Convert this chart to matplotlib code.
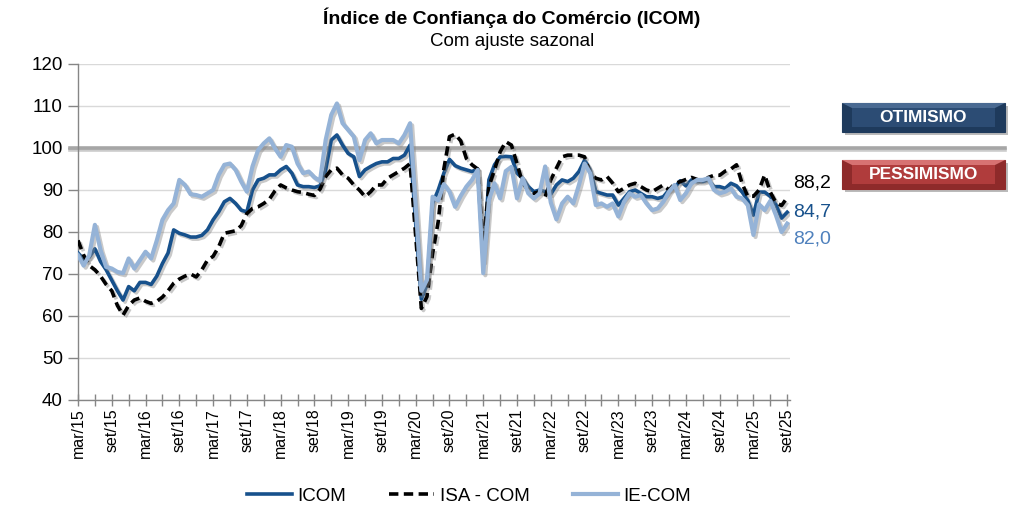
import matplotlib
matplotlib.use('Agg')
import matplotlib.pyplot as plt
import matplotlib.patheffects as pe
from matplotlib.patches import Rectangle, Polygon
from matplotlib.lines import Line2D
import numpy as np

plt.rcParams['font.family'] = ['Liberation Sans', 'DejaVu Sans']

TITLE = 'Índice de Confiança do Comércio (ICOM)'
SUBTITLE = 'Com ajuste sazonal'
SERIES_NAMES = ['ICOM', 'ISA - COM', 'IE-COM']
XLABELS = ['mar/15', 'set/15', 'mar/16', 'set/16', 'mar/17', 'set/17', 'mar/18', 'set/18',
           'mar/19', 'set/19', 'mar/20', 'set/20', 'mar/21', 'set/21', 'mar/22', 'set/22',
           'mar/23', 'set/23', 'mar/24', 'set/24', 'mar/25', 'set/25']
YTICKS = [40, 50, 60, 70, 80, 90, 100, 110, 120]
NEUTRAL = 100
ZONE_LABELS = ['OTIMISMO', 'PESSIMISMO']
LAST_LABELS = ['84,7', '88,2', '82,0']

icom = [75, 73.5, 74, 76, 73, 71, 68.5, 66, 63.8, 67,
        66, 68, 68, 67.5, 69.5, 72.5, 75, 80.5, 79.7, 79.3,
        78.8, 78.8, 79.2, 80.5, 82.9, 84.8, 87.2, 88, 86.8, 85.2,
        84.8, 90, 92.4, 92.8, 93.6, 93.6, 94.8, 95.6, 94, 91.2,
        90.8, 90.8, 90.6, 91, 94.8, 101.9, 103.1, 100.7, 98.7, 97.9,
        93.2, 94.8, 95.6, 96.3, 96.7, 96.7, 97.5, 97.5, 98.3, 100.7,
        82, 64, 67.5, 86.8, 90, 94, 97.3, 95.8, 95.2, 94.8,
        94.4, 95, 73, 92.4, 96, 97.9, 98, 97.9, 94, 92.8,
        90.8, 89.6, 90, 89.6, 89, 91.2, 92.4, 92, 92.8, 94.4,
        97.1, 94.8, 89.6, 89.2, 88.8, 88.8, 86.4, 88, 89.6, 90,
        89.2, 88.4, 88.4, 88, 88.4, 90, 90.6, 92.2, 91, 92.4,
        92, 92, 92.4, 90.8, 90.8, 90.4, 91.6, 91, 89.5, 87.5,
        84, 89.5, 89.5, 88.5, 86.5, 83.3, 84.7]

isa = [78, 74.5, 72, 71, 69.5, 67.5, 66, 62.5, 60.2, 62.5,
       63.8, 64.3, 63.5, 63, 63.5, 64.5, 66, 67.8, 68.8, 69.5,
       70, 69.3, 71, 73.3, 74.2, 76.5, 79.7, 80, 80.3, 81.5,
       84.4, 85.6, 86, 86.8, 87.8, 89.8, 91.2, 90.5, 90, 89.6,
       89.4, 89, 88.7, 90.2, 93.2, 94.8, 95.2, 93.6, 92.8, 91.2,
       90, 88.4, 89.6, 91.2, 91.2, 92.8, 93.6, 94.4, 95.2, 96.3,
       79, 61.8, 64.6, 74.9, 82.5, 95, 102.7, 103.3, 101.7, 97.5,
       96, 95, 77, 90.8, 94.8, 99.1, 101.5, 100.7, 96.3, 91.6,
       90, 89.2, 89.6, 88.4, 92.4, 95.2, 97.9, 98.3, 98.3, 98.3,
       97.9, 94, 92.8, 92.4, 93.2, 91.6, 89.6, 90.4, 91.2, 91.6,
       90.8, 90, 89.6, 90.4, 91.2, 90, 91.5, 92, 92.5, 93,
       92.5, 92, 93, 93.5, 93.5, 94.5, 95, 96, 91.5, 88.5,
       88.5, 90, 93.6, 89.5, 87, 86.3, 88.2]

iecom = [74.5, 72, 74.5, 81.7, 75.7, 71.7, 71.3, 70.5, 70.2, 73.7,
         71.3, 73.3, 75.3, 73.7, 78, 82.9, 85.2, 86.8, 92.4, 91.2,
         89, 88.8, 88.4, 89.2, 90, 93.6, 96, 96.3, 94.8, 92,
         89.6, 95.6, 99.5, 101.1, 102.3, 99.9, 97.9, 100.7, 100.3, 96.3,
         94, 94.4, 93, 92.2, 101.9, 107.9, 110.6, 105.9, 104.3, 102.7,
         97.1, 101.9, 103.5, 101.1, 101.9, 101.9, 101.9, 101.1, 103.1, 105.9,
         86, 66, 68.6, 88.4, 87.5, 91.4, 89.6, 86, 88.6, 90.8,
         92.4, 94.8, 70.2, 87.6, 91.6, 88, 94.5, 95.5, 88, 92.8,
         89.2, 88, 89.2, 95.6, 87, 83, 86.8, 88.4, 86.8, 91.2,
         96.3, 94, 86.4, 86.8, 86, 86.8, 83.7, 87.2, 89.2, 88.4,
         88.8, 86.8, 85.2, 85.6, 87.2, 89.6, 91.2, 87.6, 89.2, 91.6,
         92.4, 92.4, 92.8, 90, 89.2, 89.6, 90.4, 88.4, 88, 86.4,
         79.3, 86.6, 85.2, 87.4, 84, 80, 82]

C_ICOM = '#17518C'
C_ISA = '#000000'
C_IE = '#95B3D7'
C_IE_TXT = '#4F81BD'

W, H = 1024, 512
fig = plt.figure(figsize=(W / 100, H / 100), dpi=100)
ax = fig.add_axes([78 / W, 112 / H, 712 / W, 336 / H])

n = len(icom)
x = np.arange(n)

shadow = [pe.SimpleLineShadow(offset=(1.5, -1.5), shadow_color='#888888', alpha=0.45), pe.Normal()]

ax.plot(x, icom, color=C_ICOM, lw=2.6, solid_joinstyle='round', path_effects=shadow, zorder=3)
ax.plot(x, isa, color=C_ISA, lw=2.6, linestyle=(0, (2.6, 1.5)), path_effects=shadow, zorder=4)
ax.plot(x, iecom, color=C_IE, lw=3.0, solid_joinstyle='round', path_effects=shadow, zorder=5)

ax.set_xlim(0, n - 1 + 0.5)
ax.set_ylim(YTICKS[0], YTICKS[-1])
ax.set_yticks(YTICKS)
ax.set_yticklabels([str(v) for v in YTICKS], fontsize=13.5)
ax.set_xticks(np.arange(0, n, 6))
ax.set_xticklabels(XLABELS, rotation=90, fontsize=11.5)
ax.set_xticks(np.arange(0, n, 3), minor=True)
ax.tick_params(axis='y', direction='out', length=7, width=1, color='#868686', pad=4)
ax.tick_params(axis='x', which='both', direction='inout', length=8, width=1, color='#868686', pad=2)

ax.grid(axis='y', color='#D9D9D9', lw=1)
ax.set_axisbelow(True)
for s in ['top', 'right']:
    ax.spines[s].set_visible(False)
for s in ['left', 'bottom']:
    ax.spines[s].set_color('#868686')
    ax.spines[s].set_linewidth(1)

# neutral line at 100 extending across the figure
x0 = (70 - 78) / 712
x1 = (1005 - 78) / 712
ax.axhline(NEUTRAL, xmin=x0, xmax=x1, color='#A6A6A6', lw=2.6, clip_on=False, zorder=2,
           path_effects=[pe.SimpleLineShadow(offset=(0, -1.5), shadow_color='#999999', alpha=0.5), pe.Normal()])

# last value labels
last_vals = [icom[-1], isa[-1], iecom[-1]]
offs = [0, 10.5, -11]
cols = [C_ICOM, '#000000', C_IE_TXT]
for lab, v, o, c in zip(LAST_LABELS, last_vals, offs, cols):
    ax.annotate(lab, xy=(n - 1, v), xytext=(4, o), textcoords='offset points',
                ha='left', va='center', fontsize=14, color=c, annotation_clip=False)

# zone boxes
def zone_box(y_top, label, c_out, c_in, c_hi):
    bx, bw = 842 / W, 163 / W
    bh = 29 / H
    by = 1 - y_top / H - bh
    fig.patches.append(Rectangle((bx + 3 / W, by - 3 / H), bw, bh, transform=fig.transFigure,
                                 facecolor='#BBBBBB', edgecolor='none', zorder=1))
    fig.patches.append(Rectangle((bx, by), bw, bh, transform=fig.transFigure,
                                 facecolor=c_out, edgecolor=c_out, lw=0.8, zorder=2))
    ix, iy = 10 / W, 5 / H
    fig.patches.append(Polygon([(bx, by + bh), (bx + bw, by + bh), (bx + bw - ix, by + bh - iy),
                                (bx + ix, by + bh - iy)], closed=True, transform=fig.transFigure,
                               facecolor=c_hi, edgecolor='none', zorder=3))
    fig.patches.append(Rectangle((bx + ix, by + iy), bw - 2 * ix, bh - 2 * iy, transform=fig.transFigure,
                                 facecolor=c_in, edgecolor='none', zorder=3))
    fig.text(bx + bw / 2, by + bh / 2, label, ha='center', va='center', color='white',
             fontsize=12.5, fontweight='bold', zorder=4)

zone_box(103, ZONE_LABELS[0], '#1E3A5C', '#2C4C74', '#4A6A92')
zone_box(160, ZONE_LABELS[1], '#8E2A2A', '#B03C3C', '#D77272')

fig.text(0.5, 1 - 18 / H, TITLE, ha='center', va='center', fontsize=14, fontweight='bold')
fig.text(0.5, 1 - 42 / H, SUBTITLE, ha='center', va='center', fontsize=13.5)

handles = [Line2D([], [], color=C_ICOM, lw=2.6),
           Line2D([], [], color=C_ISA, lw=2.6, linestyle=(0, (2.6, 1.5))),
           Line2D([], [], color=C_IE, lw=3.0)]
fig.legend(handles, SERIES_NAMES, loc='center', bbox_to_anchor=(469 / W, 1 - 496 / H), ncol=3,
           frameon=False, fontsize=13.5, handlelength=2.4, handletextpad=0.3, columnspacing=2.3)

fig.savefig('out.png', dpi=100)
